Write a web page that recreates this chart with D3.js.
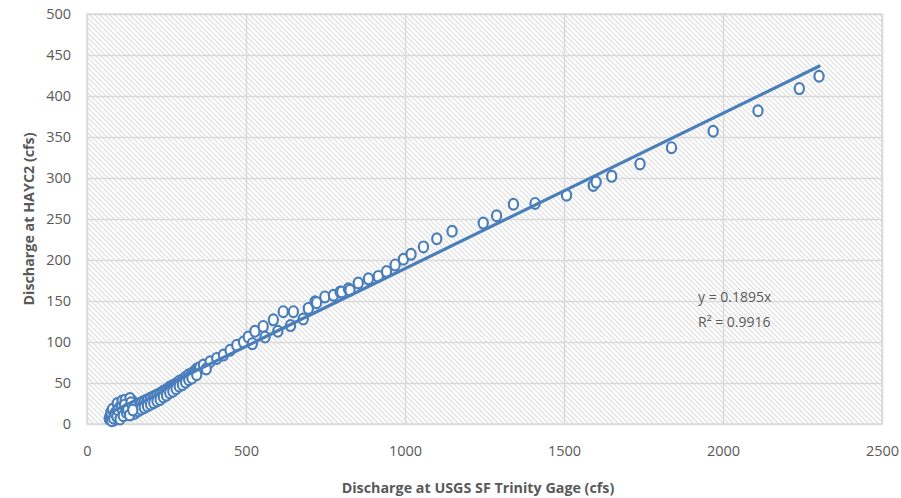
<!DOCTYPE html>
<html><head><meta charset="utf-8">
<script src="https://cdn.jsdelivr.net/npm/d3@7"></script>
<style>body{margin:0;background:#fff}svg{display:block}</style>
</head><body>
<svg id="c" width="901" height="498"></svg>
<script>
const xTicks = [0, 500, 1000, 1500, 2000, 2500];
const yTicks = [0, 50, 100, 150, 200, 250, 300, 350, 400, 450, 500];
const slope = 0.1895;
const r2Label = "R² = 0.9916";
const eqLabel = "y = 0.1895x";
const xTitle = "Discharge at USGS SF Trinity Gage (cfs)";
const yTitle = "Discharge at HAYC2 (cfs)";
// gauge discharge (cfs)
const usgsQ = [70,72,75,78,80,82,85,88,90,92,95,98,100,102,105,108,110,112,115,118,120,125,128,130,132,135,138,140,142,145,148,150,155,158,160,165,170,175,180,185,190,195,200,205,210,215,220,225,230,235,240,245,250,255,260,265,270,275,280,285,290,295,300,305,310,315,320,325,330,335,340,345,350,355,366,387,408,429,450,471,492,507,520,528,554,560,586,600,617,640,649,680,696,717,722,748,775,796,801,822,827,853,885,916,942,969,995,1019,1058,1100,1148,1246,1288,1341,1409,1508,1592,1601,1650,1739,1838,1969,2110,2240,2302,
  75,80,85,90,95,100,105,110,115,120,125,130,135,140,145,150,160,170,180,190,200,210,220,230,240,250,260,270,280,290,300,310,320,330,345,375,
  78,84,88,94,98,104,108,114,118,124,128,134,138,144];
// HAYC2 discharge (cfs)
const haycQ = [6,9,7,12,8,15,10,18,12,20,14,22,11,24,16,26,13,21,18,24,15,20,27,17,30,22,14,19,28,21,16,24,20,18,23,21,25,22,27,24,29,26,31,28,33,30,35,32,37,34,40,37,42,39,45,42,47,45,49,47,52,50,54,52,57,55,60,58,62,61,65,67,66,69,72,76,80,84,90,96,100,106,98,113,119,106,127,113,137,120,137,128,141,149,148,155,157,161,161,165,163,172,177,180,186,194,201,207,216,226,235,245,254,268,269,279,291,295,302,317,337,357,382,409,424,
  14,18,5,8,25,19,9,28,11,29,12,25,31,12,14,13,16,18,20,22,24,26,28,30,33,35,38,40,43,46,48,51,54,56,60,67,
  4,7,13,9,17,6,20,10,23,14,18,11,26,17];

const svg = d3.select("#c");
const m = {l:87, r:882, t:14, b:424};
const x = d3.scaleLinear().domain([0,2500]).range([m.l, m.r]);
const y = d3.scaleLinear().domain([0,500]).range([m.b, m.t]);
const blue = "#4a7ebb", txt = "#595959", grid = "#d9d9d9";

const defs = svg.append("defs");
const pat = defs.append("pattern").attr("id","hatch").attr("patternUnits","userSpaceOnUse")
  .attr("width",5).attr("height",5);
pat.append("rect").attr("width",5).attr("height",5).attr("fill","#fff");
pat.append("path").attr("d","M-1,-1 L6,6 M-1,4 L1,6 M4,-1 L6,1").attr("stroke","#dedede").attr("stroke-width",1.2);

svg.append("rect").attr("x",m.l).attr("y",m.t).attr("width",m.r-m.l).attr("height",m.b-m.t)
  .attr("fill","url(#hatch)").attr("stroke",grid).attr("stroke-width",1.5);

const gy = svg.append("g").attr("transform",`translate(${m.l},0)`)
  .call(d3.axisLeft(y).tickValues(yTicks).tickSize(-(m.r-m.l)).tickPadding(16).tickFormat(d3.format("d")));
const gx = svg.append("g").attr("transform",`translate(0,${m.b})`)
  .call(d3.axisBottom(x).tickValues(xTicks).tickSize(-(m.b-m.t)).tickPadding(22).tickFormat(d3.format("d")));
[gx,gy].forEach(g=>{
  g.select(".domain").remove();
  g.selectAll(".tick line").attr("stroke",grid).attr("stroke-width",1.5);
  g.selectAll(".tick text").attr("fill",txt).attr("font-family","Open Sans").attr("font-size",14.5);
});

const pts = usgsQ.map((v,i)=>({x:v,y:haycQ[i]}));
svg.append("g").selectAll("ellipse").data(pts).join("ellipse")
  .attr("cx",d=>x(d.x)).attr("cy",d=>y(d.y)).attr("rx",4.6).attr("ry",5.4)
  .attr("fill","#fff").attr("stroke",blue).attr("stroke-width",2.2);

const x0 = d3.min(usgsQ), x1 = d3.max(usgsQ);
svg.append("line").attr("x1",x(x0)).attr("y1",y(slope*x0)).attr("x2",x(x1)).attr("y2",y(slope*x1))
  .attr("stroke",blue).attr("stroke-width",3.2).attr("stroke-linecap","round");

svg.append("text").attr("x",698).attr("y",302).attr("fill",txt).attr("font-family","Open Sans").attr("font-size",14).text(eqLabel);
svg.append("text").attr("x",698).attr("y",327).attr("fill",txt).attr("font-family","Open Sans").attr("font-size",14).text(r2Label);

svg.append("text").attr("x",478).attr("y",493).attr("text-anchor","middle").attr("fill",txt)
  .attr("font-family","Open Sans").attr("font-weight","bold").attr("font-size",14.3).text(xTitle);
svg.append("text").attr("transform","translate(34,219) rotate(-90)").attr("text-anchor","middle").attr("fill",txt)
  .attr("font-family","Open Sans").attr("font-weight","bold").attr("font-size",14.3).text(yTitle);
</script>
</body></html>
